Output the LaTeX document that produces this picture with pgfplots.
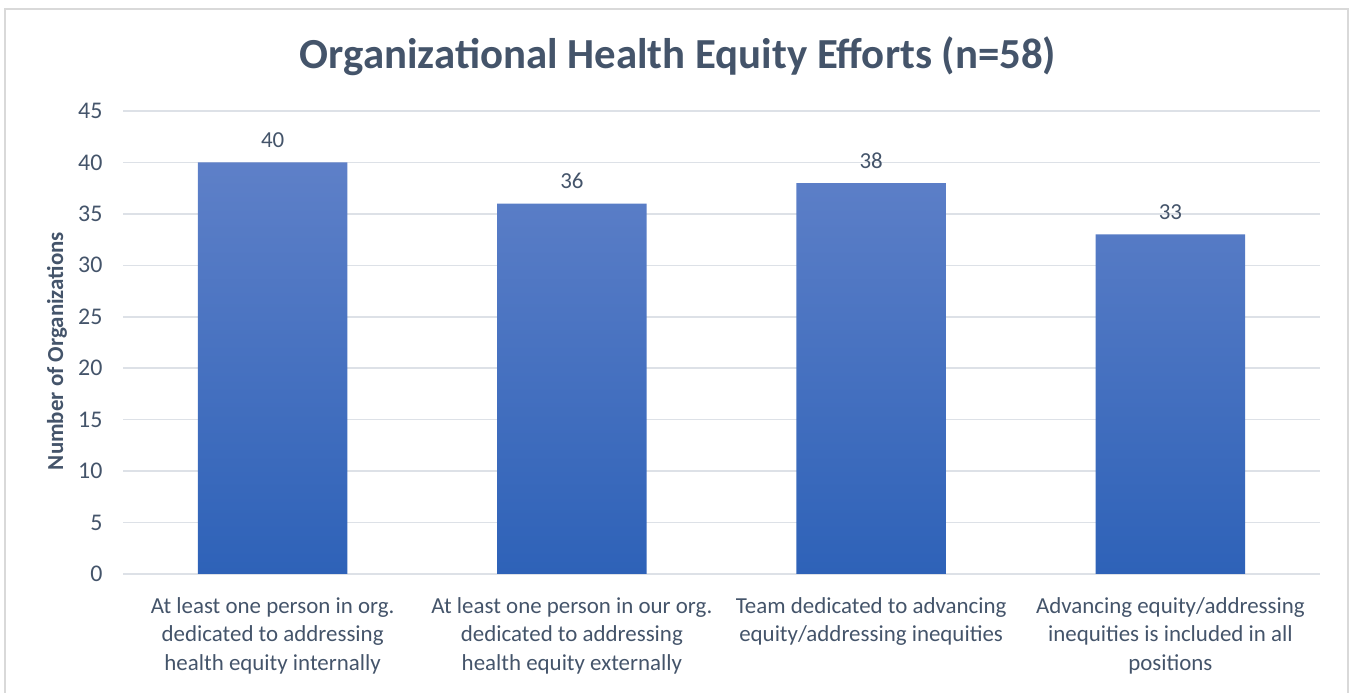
\documentclass[border=0pt]{standalone}
\usepackage{fontspec}
\setmainfont{Carlito}
\usepackage{pgfplots}
\pgfplotsset{compat=1.18}
\definecolor{inkgray}{HTML}{44546A}
\definecolor{gridgray}{HTML}{DDE1E7}
\definecolor{bartop}{HTML}{5E80C8}
\definecolor{barbot}{HTML}{2E62B8}
\definecolor{framegray}{HTML}{D9D9D9}

\begin{document}
\begin{tikzpicture}[x=1bp,y=1bp]
\useasboundingbox (0,0) rectangle (1351,692);
\draw[framegray, line width=1.2bp] (5,-5) -- (5,683) -- (1348,683) -- (1348,-5);
\begin{axis}[
    at={(123bp,118bp)}, anchor=south west,
    scale only axis, width=1197bp, height=463bp,
    xmin=-0.5, xmax=3.5, ymin=0, ymax=45,
    ytick={0,5,...,45}, xtick={0,1,2,3},
    xticklabels={
      {At least one person in org.\\dedicated to addressing\\health equity internally},
      {At least one person in our org.\\dedicated to addressing\\health equity externally},
      {Team dedicated to advancing\\equity/addressing inequities},
      {Advancing equity/addressing\\inequities is included in all\\positions}},
    axis line style={draw=none},
    major tick length=0pt,
    ymajorgrids, grid style={gridgray, line width=1.5bp},
    /pgf/number format/assume math mode=true,
    y tick label style={font=\fontsize{24}{26}\selectfont, text=inkgray, xshift=-17bp},
    x tick label style={font=\fontsize{23}{28.5}\selectfont, text=inkgray, align=center, yshift=-20bp},
    ybar, bar width=0.5,
    nodes near coords,
    every node near coord/.append style={font=\fontsize{23}{26}\selectfont, text=inkgray, yshift=11bp},
    clip=false,
  ]
  % organisations per effort
  \addplot[draw=none, top color=bartop, bottom color=barbot] coordinates {
    (0,40) (1,36) (2,38) (3,33)};
\end{axis}
\node[font=\bfseries\fontsize{43}{48}\selectfont, text=inkgray] at (678,636) {Organizational Health Equity Efforts (n=58)};
\node[rotate=90, font=\bfseries\fontsize{23}{26}\selectfont, text=inkgray] at (57,341) {Number of Organizations};
\end{tikzpicture}
\end{document}
